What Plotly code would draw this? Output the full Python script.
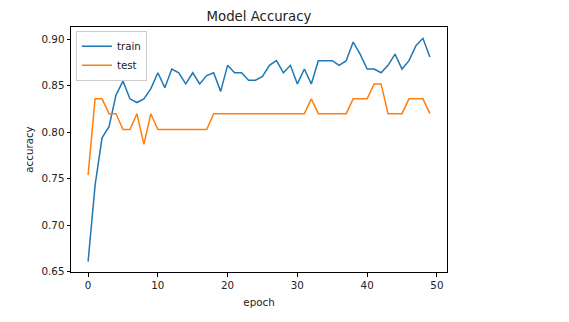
import plotly.graph_objects as go

epochs = list(range(50))
train_acc = [0.661, 0.743, 0.794, 0.806, 0.840, 0.855, 0.836, 0.832, 0.836, 0.847,
             0.864, 0.848, 0.868, 0.864, 0.852, 0.864, 0.852, 0.861, 0.864, 0.844,
             0.872, 0.864, 0.864, 0.856, 0.856, 0.860, 0.872, 0.877, 0.864, 0.872,
             0.852, 0.868, 0.852, 0.877, 0.877, 0.877, 0.872, 0.877, 0.897, 0.884,
             0.868, 0.868, 0.864, 0.872, 0.884, 0.868, 0.877, 0.893, 0.901, 0.881]
test_acc = [0.754, 0.836, 0.836, 0.820, 0.820, 0.803, 0.803, 0.820, 0.787, 0.820,
            0.803, 0.803, 0.803, 0.803, 0.803, 0.803, 0.803, 0.803, 0.820, 0.820,
            0.820, 0.820, 0.820, 0.820, 0.820, 0.820, 0.820, 0.820, 0.820, 0.820,
            0.820, 0.820, 0.836, 0.820, 0.820, 0.820, 0.820, 0.820, 0.836, 0.836,
            0.836, 0.852, 0.852, 0.820, 0.820, 0.820, 0.836, 0.836, 0.836, 0.820]
x_ticks = [0, 10, 20, 30, 40, 50]
y_ticks = [0.65, 0.70, 0.75, 0.80, 0.85, 0.90]

font = "DejaVu Sans"
fig = go.Figure()
fig.add_trace(go.Scatter(x=epochs, y=train_acc, mode="lines", name="train",
                         line=dict(color="#1f77b4", width=1.5)))
fig.add_trace(go.Scatter(x=epochs, y=test_acc, mode="lines", name="test",
                         line=dict(color="#ff7f0e", width=1.5)))

axis_common = dict(showgrid=False, zeroline=False, showline=True, linecolor="black",
                   linewidth=1, mirror=True, ticks="outside", ticklen=3.5,
                   tickcolor="black", tickfont=dict(family=font, size=10.3, color="#222222"))

fig.update_layout(
    width=569, height=322,
    margin=dict(l=71, r=122, t=27, b=50),
    paper_bgcolor="white", plot_bgcolor="white",
    title=dict(text="Model Accuracy", x=(71 + 447) / 2 / 569, xanchor="center",
               y=1 - 16 / 322, yanchor="middle",
               font=dict(family=font, size=13.3, color="#222222")),
    xaxis=dict(range=[-2.45, 51.45], tickvals=x_ticks,
               title=dict(text="epoch", font=dict(family=font, size=10.3, color="#222222"), standoff=8),
               **axis_common),
    yaxis=dict(range=[0.6498, 0.9132], tickvals=y_ticks, tickformat=".2f",
               title=dict(text="accuracy", font=dict(family=font, size=10.3, color="#222222"), standoff=5),
               **axis_common),
    legend=dict(x=0.013, y=0.985, xanchor="left", yanchor="top",
                bgcolor="rgba(255,255,255,0.8)", bordercolor="#cccccc", borderwidth=1,
                font=dict(family=font, size=10.3, color="#222222"),
                itemwidth=30, tracegroupgap=0),
    showlegend=True,
)

fig.write_html("out.html")
